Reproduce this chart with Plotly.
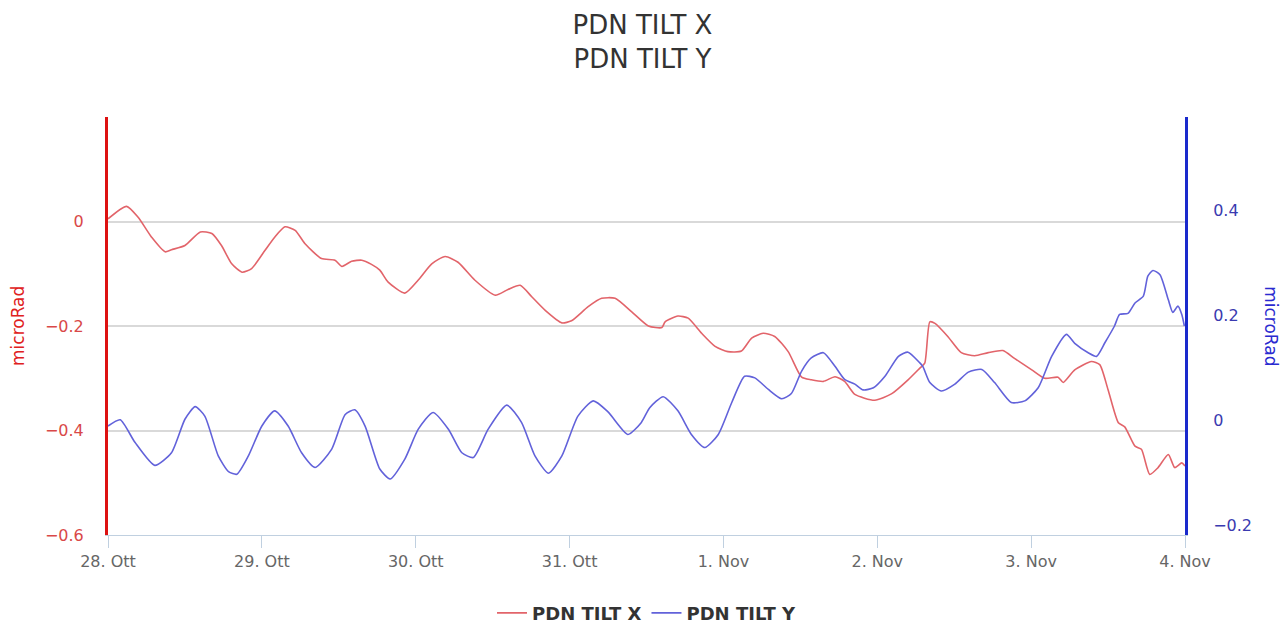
import pandas as pd
import plotly.graph_objects as go

BASE = "2019-10-28 00:00"

hours_x = [0.0, 2.9, 4.7, 6.8, 8.9, 9.9, 12.0, 14.4, 16.2, 17.7,
           19.3, 20.9, 22.4, 24.5, 26.0, 27.6, 29.2, 30.7, 33.3, 35.4,
           36.5, 38.0, 39.6, 41.1, 42.4, 43.7, 46.3, 48.4, 50.5, 52.6,
           54.6, 57.2, 60.4, 62.4, 64.3, 66.1, 68.2, 70.8, 72.3, 74.9,
           77.0, 79.1, 81.7, 84.3, 86.4, 86.9, 88.9, 90.5, 92.6, 94.7,
           96.7, 98.8, 100.4, 102.2, 104.0, 106.1, 108.2, 109.7, 111.6, 113.4,
           114.9, 116.5, 119.6, 122.2, 124.8, 126.6, 127.4, 128.2, 129.0, 131.0,
           133.1, 135.2, 137.3, 139.6, 141.4, 144.1, 146.1, 148.2, 149.0, 150.8,
           153.4, 154.7, 156.0, 157.6, 158.6, 160.2, 161.2, 162.5, 163.8, 165.4,
           166.4, 167.5, 168.0]
tilt_x = [0.005, 0.029, 0.008, -0.030, -0.058, -0.054, -0.046, -0.020, -0.023, -0.046,
          -0.081, -0.097, -0.090, -0.055, -0.030, -0.010, -0.017, -0.042, -0.071, -0.074,
          -0.086, -0.076, -0.074, -0.082, -0.093, -0.116, -0.137, -0.112, -0.081, -0.067,
          -0.078, -0.112, -0.141, -0.130, -0.122, -0.144, -0.170, -0.194, -0.190, -0.163,
          -0.147, -0.147, -0.173, -0.200, -0.203, -0.192, -0.181, -0.185, -0.214, -0.239,
          -0.249, -0.248, -0.223, -0.214, -0.220, -0.249, -0.298, -0.303, -0.306, -0.297,
          -0.306, -0.331, -0.342, -0.330, -0.303, -0.281, -0.271, -0.192, -0.195, -0.220,
          -0.251, -0.257, -0.251, -0.247, -0.262, -0.284, -0.300, -0.298, -0.308, -0.284,
          -0.268, -0.274, -0.322, -0.385, -0.393, -0.430, -0.436, -0.484, -0.471, -0.446,
          -0.471, -0.462, -0.468]

hours_y = [0.0, 1.9, 4.2, 7.3, 9.9, 12.0, 13.6, 15.1, 17.2, 18.8,
           20.1, 21.9, 24.0, 26.0, 28.1, 30.2, 32.3, 34.9, 37.0, 38.5,
           40.1, 42.4, 44.0, 46.3, 48.4, 50.7, 53.1, 55.2, 57.0, 59.3,
           62.2, 64.5, 66.6, 68.7, 70.8, 73.3, 75.7, 78.0, 81.1, 83.2,
           84.5, 86.6, 88.9, 91.0, 93.1, 95.2, 97.3, 99.3, 100.9, 103.0,
           105.1, 106.6, 108.2, 109.7, 111.6, 113.4, 114.9, 116.5, 117.8, 119.4,
           121.2, 123.3, 124.8, 126.6, 127.1, 128.2, 130.0, 132.1, 134.2, 136.3,
           138.3, 140.9, 143.0, 145.1, 147.2, 149.5, 150.8, 152.9, 154.2, 155.5,
           157.0, 157.8, 159.1, 160.2, 161.5, 162.2, 163.0, 164.1, 165.4, 166.1,
           166.9, 167.5, 167.9]
tilt_y = [-0.011, 0.001, -0.042, -0.086, -0.062, 0.002, 0.026, 0.008, -0.068, -0.098,
          -0.103, -0.068, -0.011, 0.018, -0.011, -0.062, -0.090, -0.055, 0.011, 0.020,
          -0.011, -0.093, -0.112, -0.074, -0.017, 0.015, -0.017, -0.062, -0.071, -0.017,
          0.029, -0.004, -0.068, -0.101, -0.068, 0.008, 0.037, 0.016, -0.027, -0.004,
          0.024, 0.045, 0.018, -0.027, -0.052, -0.027, 0.034, 0.084, 0.081, 0.059,
          0.041, 0.051, 0.094, 0.119, 0.129, 0.103, 0.078, 0.069, 0.058, 0.062,
          0.084, 0.122, 0.130, 0.110, 0.103, 0.072, 0.056, 0.069, 0.092, 0.097,
          0.072, 0.034, 0.037, 0.062, 0.122, 0.164, 0.147, 0.129, 0.122, 0.148,
          0.180, 0.202, 0.204, 0.224, 0.237, 0.275, 0.286, 0.278, 0.230, 0.206,
          0.218, 0.202, 0.180]

tick_dates = ["2019-10-28", "2019-10-29", "2019-10-30", "2019-10-31",
              "2019-11-01", "2019-11-02", "2019-11-03", "2019-11-04"]
tick_labels = ["28. Ott", "29. Ott", "30. Ott", "31. Ott",
               "1. Nov", "2. Nov", "3. Nov", "4. Nov"]

base = pd.Timestamp(BASE)
tx = [base + pd.Timedelta(hours=h) for h in hours_x]
ty = [base + pd.Timedelta(hours=h) for h in hours_y]

FONT = "DejaVu Sans"
RED_LINE = "#e2646a"
BLUE_LINE = "#6262da"

fig = go.Figure()
fig.add_trace(go.Scatter(x=tx, y=tilt_x, name="PDN TILT X", mode="lines",
                         line=dict(color=RED_LINE, width=1.6, shape="spline", smoothing=0.6),
                         yaxis="y"))
fig.add_trace(go.Scatter(x=ty, y=tilt_y, name="PDN TILT Y", mode="lines",
                         line=dict(color=BLUE_LINE, width=1.6, shape="spline", smoothing=0.6),
                         yaxis="y2"))

fig.update_layout(
    width=1285, height=628,
    margin=dict(l=108, r=100, t=117, b=93, autoexpand=False),
    paper_bgcolor="white", plot_bgcolor="white",
    font=dict(family=FONT, size=16, color="#666666"),
    title=dict(text="PDN TILT X<br>PDN TILT Y", x=0.5, xanchor="center",
               y=1 - 34 / 628, yanchor="middle", yref="container",
               font=dict(family=FONT, size=26, color="#333333")),
    xaxis=dict(type="date", range=[tick_dates[0], tick_dates[-1]],
               tickvals=tick_dates, ticktext=tick_labels,
               showgrid=False, zeroline=False,
               showline=True, linecolor="#c0d0e0", linewidth=1,
               ticks="outside", ticklen=12, tickcolor="#c0d0e0", tickwidth=1,
               tickfont=dict(family=FONT, size=16, color="#666666")),
    yaxis=dict(range=[-0.6, 0.2], tickvals=[-0.6, -0.4, -0.2, 0, 0.2],
               ticktext=["−0.6", "−0.4", "−0.2", "0", ""],
               showgrid=True, gridcolor="#d9d9d9", gridwidth=1.5, zeroline=False,
               showline=True, linecolor="#dd1111", linewidth=3,
               ticks="", ticklabelstandoff=18,
               tickfont=dict(family=FONT, size=16, color="#d94848")),
    yaxis2=dict(range=[-0.219, 0.579], tickvals=[-0.2, 0, 0.2, 0.4],
                ticktext=["−0.2", "0", "0.2", "0.4"],
                overlaying="y", side="right",
                showgrid=False, zeroline=False,
                showline=True, linecolor="#1a2acc", linewidth=3,
                ticks="", ticklabelstandoff=22,
                tickfont=dict(family=FONT, size=16, color="#3a3ab0")),
    legend=dict(orientation="h", x=0.5, xanchor="center", y=-0.187, yanchor="middle",
                font=dict(family=FONT, size=18, color="#333333", weight="bold"),
                itemwidth=30),
    showlegend=True,
)

fig.add_annotation(text="microRad", xref="paper", yref="paper",
                   x=-0.0836, y=0.5, xanchor="center", yanchor="middle",
                   textangle=-90, showarrow=False,
                   font=dict(family=FONT, size=17, color="#e02020"))
fig.add_annotation(text="microRad", xref="paper", yref="paper",
                   x=1.0797, y=0.5, xanchor="center", yanchor="middle",
                   textangle=90, showarrow=False,
                   font=dict(family=FONT, size=17, color="#2a2ad0"))

fig.write_html("out.html")
